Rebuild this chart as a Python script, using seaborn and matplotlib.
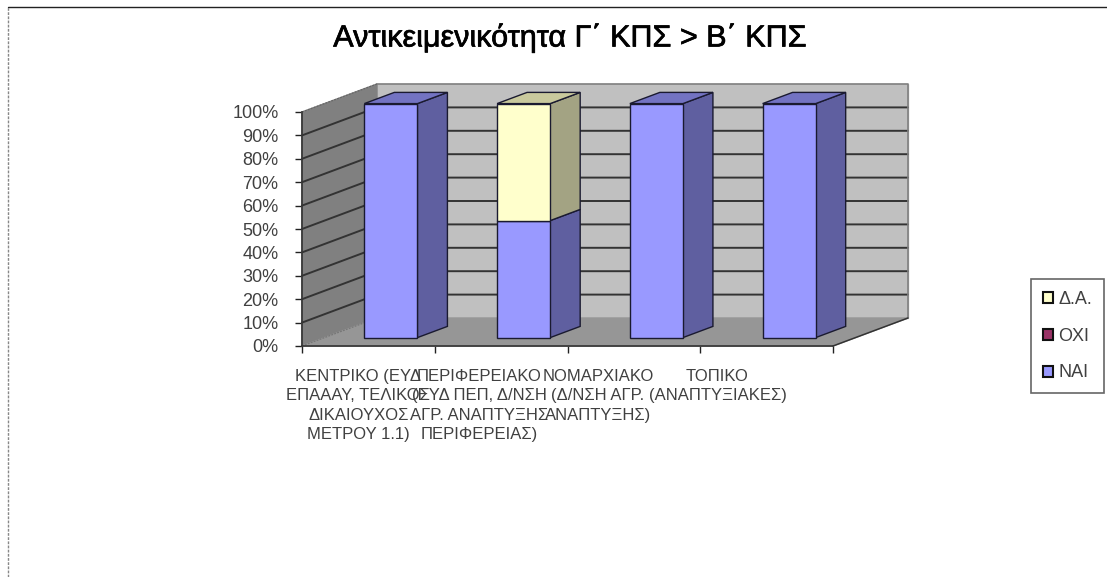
import numpy as np
import pandas as pd
import matplotlib
matplotlib.use('Agg')
import matplotlib.pyplot as plt
import matplotlib.patheffects as pe
import seaborn as sns
from matplotlib.lines import Line2D
from matplotlib.patches import Patch, Polygon
from matplotlib.transforms import Affine2D

title = 'Αντικειμενικότητα Γ΄ ΚΠΣ > Β΄ ΚΠΣ'
categories = ['ΚΕΝΤΡΙΚΟ (ΕΥΔ\nΕΠΑΑΑΥ, ΤΕΛΙΚΟΣ\nΔΙΚΑΙΟΥΧΟΣ\nΜΕΤΡΟΥ 1.1)',
              'ΠΕΡΙΦΕΡΕΙΑΚΟ\n(ΕΥΔ ΠΕΠ, Δ/ΝΣΗ\nΑΓΡ. ΑΝΑΠΤΥΞΗΣ\nΠΕΡΙΦΕΡΕΙΑΣ)',
              'ΝΟΜΑΡΧΙΑΚΟ\n(Δ/ΝΣΗ ΑΓΡ.\nΑΝΑΠΤΥΞΗΣ)',
              'ΤΟΠΙΚΟ\n(ΑΝΑΠΤΥΞΙΑΚΕΣ)']
nai = [100, 50, 100, 100]
oxi = [0, 0, 0, 0]
da = [0, 50, 0, 0]
yticks = [0, 10, 20, 30, 40, 50, 60, 70, 80, 90, 100]

# series, bottom to top: name, values, front, side, top colours
series = [('ΝΑΙ', nai, '#9999ff', '#5f5fa0', '#7373c2'),
          ('ΟΧΙ', oxi, '#993366', '#60203f', '#7a2850'),
          ('Δ.Α.', da, '#ffffcc', '#a3a383', '#c9c99d')]

W, H = 1107, 577
DX, DY = 75/132.75, 28/2.34   # full chart depth in data units
BAR_W = 0.4
D0, D1 = 0.30, 0.70           # bar depth range, share of chart depth
EDGE = '#1a1a30'


def proj(x, y, d):
    return (x + d*DX, y + d*DY)


def face(ax, pts, color, z, edge=None, lw=1.0):
    ax.add_patch(Polygon(pts, closed=True, facecolor=color, edgecolor=edge if edge else color,
                         linewidth=lw, zorder=z, clip_on=False))


sns.set_theme(style='white')
plt.rcParams['font.family'] = ['Liberation Sans', 'DejaVu Sans']

fig = plt.figure(figsize=(W/100, H/100), dpi=100, facecolor='white')
ax = fig.add_axes([302/W, 1 - 346/H, 531/W, 234/H])

x0, x1 = -0.5, len(categories) - 0.5

# walls and floor
face(ax, [proj(x0, 0, 1), proj(x1, 0, 1), proj(x1, 100, 1), proj(x0, 100, 1)], '#c0c0c0', 0.5)
face(ax, [proj(x0, 0, 0), proj(x0, 0, 1), proj(x0, 100, 1), proj(x0, 100, 0)], '#808080', 0.6)
face(ax, [proj(x0, 0, 0), proj(x1, 0, 0), proj(x1, 0, 1), proj(x0, 0, 1)], '#969696', 0.7)

# grid on wall
for t in yticks[1:-1]:
    ax.plot(*zip(proj(x0, t, 0), proj(x0, t, 1), proj(x1, t, 1)),
            color='#333333', lw=1.4, zorder=0.8, clip_on=False, solid_joinstyle='miter')
ax.plot(*zip(proj(x0, 100, 1), proj(x1, 100, 1), proj(x1, 0, 1)),
        color='#808080', lw=1.2, zorder=0.9, clip_on=False)
ax.plot(*zip(proj(x0, 100, 0), proj(x0, 100, 1)), color='#666666', lw=0.9, ls=(0, (1.5, 1)),
        zorder=0.9, clip_on=False)
ax.plot(*zip(proj(x0, 0, 0), proj(x0, 0, 1)), color='#777777', lw=0.9, ls=(0, (1.5, 1)),
        zorder=0.9, clip_on=False)
ax.plot(*zip(proj(x1, 0, 0), proj(x1, 0, 1)), color='#333333', lw=1.1, zorder=0.9, clip_on=False)

# front faces through seaborn, side and top faces from the same values
shift = Affine2D().translate(D0*DX, D0*DY) + ax.transData
bottoms = np.zeros(len(categories))
top_color = [None]*len(categories)
for name, vals, front, side, top in series:
    vals = np.array(vals, dtype=float)
    keep = vals > 0
    if keep.any():
        df = pd.DataFrame({'cat': np.array(categories)[keep], 'val': vals[keep]})
        n0 = len(ax.patches)
        sns.barplot(data=df, x='cat', y='val', order=categories, color=front, saturation=1,
                    width=BAR_W, bottom=bottoms[keep], edgecolor=EDGE, linewidth=1.0, errorbar=None, ax=ax)
        for p in ax.patches[n0:]:
            p.set_transform(shift)
            p.set_clip_on(False)
            p.set_zorder(4)
    for i, v in enumerate(vals):
        if v > 0:
            xr = i + BAR_W/2
            b = bottoms[i]
            face(ax, [proj(xr, b, D0), proj(xr, b, D1), proj(xr, b + v, D1), proj(xr, b + v, D0)],
                 side, 3, EDGE)
            top_color[i] = top
    bottoms = bottoms + vals

for i, c in enumerate(top_color):
    xl, xr = i - BAR_W/2, i + BAR_W/2
    h = bottoms[i]
    face(ax, [proj(xl, h, D0), proj(xr, h, D0), proj(xr, h, D1), proj(xl, h, D1)], c, 3, EDGE)

ax.set_xlim(x0, x1)
ax.set_ylim(0, 100)
ax.patch.set_visible(False)
for s in ['top', 'right']:
    ax.spines[s].set_visible(False)
for s in ['left', 'bottom']:
    ax.spines[s].set_color('#333333')
    ax.spines[s].set_linewidth(1.2)
    ax.spines[s].set_zorder(6)

ax.set_xlabel('')
ax.set_ylabel('')
ax.set_yticks(yticks)
ax.set_yticklabels(['{:d}%'.format(t) for t in yticks], fontsize=13, color='#404040')
ax.tick_params(axis='y', left=True, length=5, width=1.0, color='#222222', pad=12)

# labels sit off the category centres, as in the original
label_pos = [-0.075, 0.833, 1.73, 2.63]
ax.set_xticks(label_pos)
ax.set_xticklabels(categories, fontsize=12, color='#404040', linespacing=1.36, va='top')
ax.tick_params(axis='x', bottom=False, length=0, pad=16.5)
ax.set_xticks(np.arange(len(categories) + 1) - 0.5, minor=True)
ax.tick_params(axis='x', which='minor', bottom=True, length=5, width=1.0, color='#222222')

fig.text(569/W, 1 - 38/H, title, ha='center', va='center', fontsize=22, color='black',
         path_effects=[pe.withStroke(linewidth=0.5, foreground='black')])

handles = [Patch(facecolor=front, edgecolor='#111111', linewidth=1.5, label=name)
           for name, vals, front, side, top in reversed(series)]
leg = fig.legend(handles=handles, loc='upper left', bbox_to_anchor=(1031/W, 1 - 279/H), borderaxespad=0,
                 fontsize=13, frameon=True, fancybox=False, edgecolor='#666666', facecolor='white',
                 framealpha=1, handlelength=0.55, handleheight=0.55, handletextpad=0.3,
                 labelspacing=1.1, borderpad=0.65, labelcolor='#404040')
leg.get_frame().set_linewidth(1.2)

# outer frame of the pasted picture
fig.add_artist(Line2D([8/W, 1], [1 - 7/H, 1 - 7/H], color='#222222', lw=1.0))
fig.add_artist(Line2D([8/W, 8/W], [0, 1 - 7/H], color='#888888', lw=1.0, ls=(0, (2, 1))))

fig.savefig('out.png', dpi=100)
plt.close()
